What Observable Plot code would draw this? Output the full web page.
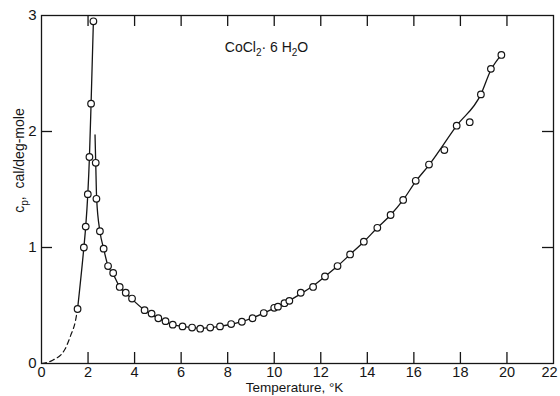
<!DOCTYPE html>
<html><head><meta charset="utf-8">
<script src="https://cdn.jsdelivr.net/npm/d3@7"></script>
<script src="https://cdn.jsdelivr.net/npm/@observablehq/plot@0.6"></script>
<style>body{margin:0;background:#fff} #chart{width:560px;height:396px}</style>
</head><body><div id="chart"></div>
<script>
// Measured points, rising branch (below the transition)
const leftT  = [1.55, 1.82, 1.90, 1.99, 2.06, 2.13, 2.23];
const leftCp = [0.47, 1.00, 1.18, 1.46, 1.78, 2.24, 2.95];
// Measured points, falling branch and high-temperature rise
const rightT  = [2.33, 2.36, 2.51, 2.67, 2.86, 3.08, 3.36, 3.62, 3.89, 4.43, 4.73, 5.02, 5.33, 5.64, 6.06, 6.47, 6.82, 7.25, 7.67, 8.15, 8.61, 9.07, 9.55, 10.0, 10.16, 10.44, 10.65, 11.14, 11.67, 12.18, 12.72, 13.26, 13.85, 14.43, 15.0, 15.54, 16.08, 16.65, 17.31, 17.84, 18.40, 18.88, 19.31, 19.76];
const rightCp = [1.73, 1.42, 1.14, 0.99, 0.84, 0.78, 0.66, 0.61, 0.56, 0.46, 0.43, 0.39, 0.365, 0.335, 0.32, 0.31, 0.30, 0.31, 0.32, 0.34, 0.36, 0.39, 0.435, 0.48, 0.49, 0.52, 0.54, 0.61, 0.66, 0.75, 0.84, 0.94, 1.05, 1.17, 1.28, 1.41, 1.575, 1.715, 1.84, 2.05, 2.08, 2.32, 2.54, 2.66];
// Drawn curves
const dashT  = [0, 0.5, 1.0, 1.25, 1.45, 1.55];
const dashCp = [0, 0.03, 0.12, 0.24, 0.36, 0.47];
const fitLeftT  = [1.55, 1.82, 1.90, 1.99, 2.06, 2.13, 2.23];
const fitLeftCp = [0.47, 1.00, 1.18, 1.46, 1.78, 2.24, 2.95];
const fitRightT  = [2.30, 2.33, 2.37, 2.51, 2.67, 2.86, 3.08, 3.36, 3.62, 3.89, 4.43, 5.02, 5.64, 6.06, 6.82, 7.67, 8.61, 9.55, 10.44, 11.14, 11.67, 12.18, 12.72, 13.26, 13.85, 14.43, 15.0, 15.54, 16.08, 16.65, 17.84, 18.88, 19.31, 19.76];
const fitRightCp = [1.97, 1.73, 1.42, 1.14, 0.99, 0.84, 0.77, 0.66, 0.61, 0.555, 0.46, 0.39, 0.335, 0.32, 0.305, 0.32, 0.36, 0.435, 0.52, 0.60, 0.67, 0.75, 0.84, 0.94, 1.05, 1.17, 1.28, 1.41, 1.57, 1.71, 2.05, 2.32, 2.53, 2.66];
// Axes
const xTickLabels = [0, 2, 4, 6, 8, 10, 12, 14, 16, 18, 20, 22];
const xTickMarks = [2, 4, 6, 8, 10, 12, 14, 16, 18, 20];
const yTickLabels = [0, 1, 2, 3];
const yTickMarks = [1, 2];
const xLabel = "Temperature, °K";
const yLabel = "cp, cal/deg-mole";
const title = "CoCl2· 6 H2O";

const zip = (a, b) => a.map((t, i) => ({T: t, cp: b[i]}));
const points = zip(leftT, leftCp).concat(zip(rightT, rightCp));

const W = 560, H = 396, mL = 41, mR = 7, mT = 15, mB = 33;
const innerW = W - mL - mR, innerH = H - mT - mB;
const ink = "#151515";
const font = "'Liberation Sans', Arial, sans-serif";

const plot = Plot.plot({
  width: W, height: H,
  marginLeft: mL, marginRight: mR, marginTop: mT, marginBottom: mB,
  style: {fontFamily: font, fontSize: "14px", color: ink, background: "#fff", overflow: "visible"},
  x: {domain: [0, 22]},
  y: {domain: [0, 3]},
  marks: [
    Plot.line(zip(dashT, dashCp), {x: "T", y: "cp", stroke: ink, strokeWidth: 1.2, strokeDasharray: "5,3.5", curve: "monotone-x"}),
    Plot.line(zip(fitLeftT, fitLeftCp), {x: "T", y: "cp", stroke: ink, strokeWidth: 1.3, curve: "monotone-x"}),
    Plot.line(zip(fitRightT, fitRightCp), {x: "T", y: "cp", stroke: ink, strokeWidth: 1.3, curve: "monotone-x"}),
    Plot.dot(points, {x: "T", y: "cp", r: 3.3, fill: "white", stroke: ink, strokeWidth: 1.2}),
    Plot.frame({stroke: ink, strokeWidth: 1.3}),
    Plot.tickX(xTickMarks, {x: d => d, insetTop: innerH - 11, stroke: ink, strokeWidth: 1.3}),
    Plot.tickX(xTickMarks, {x: d => d, insetBottom: innerH - 11, stroke: ink, strokeWidth: 1.3}),
    Plot.tickY(yTickMarks, {y: d => d, insetRight: innerW - 11, stroke: ink, strokeWidth: 1.3}),
    Plot.tickY(yTickMarks, {y: d => d, insetLeft: innerW - 11, stroke: ink, strokeWidth: 1.3}),
    Plot.axisX(xTickLabels, {tickSize: 0, tickPadding: 3, fontSize: 14.5, tickFormat: d => String(d), label: null}),
    Plot.text([xLabel], {text: d => d, frameAnchor: "bottom", lineAnchor: "bottom", dx: -3, dy: 28, fontSize: 13.5, fill: ink}),
    Plot.axisY(yTickLabels, {tickSize: 0, tickPadding: 5, fontSize: 15, tickFormat: d => String(d), label: null}),
    Plot.text([title], {text: d => d, frameAnchor: "top", dx: -31, dy: 27, fontSize: 14, fill: ink, className: "ttl"}),
    Plot.text([yLabel], {text: d => d, frameAnchor: "left", textAnchor: "middle", lineAnchor: "middle", rotate: -90, dx: -22, dy: -29, fontSize: 14, fill: ink, className: "ylab"})
  ]
});
document.getElementById("chart").appendChild(plot);

// keep the last x tick label inside the window
for (const t of plot.querySelectorAll("text")) {
  if (t.textContent === "22") t.setAttribute("dx", "-4");
}

// subscripts
function setParts(sel, parts) {
  const t = plot.querySelector(sel);
  if (!t) return;
  t.textContent = "";
  let shift = 0;
  for (const [s, sub] of parts) {
    const ts = document.createElementNS("http://www.w3.org/2000/svg", "tspan");
    const want = sub ? 4 : 0;
    ts.setAttribute("dy", want - shift);
    shift = want;
    if (sub) ts.setAttribute("font-size", "10");
    ts.textContent = s;
    t.appendChild(ts);
  }
}
setParts("g.ttl text", [["CoCl", false], ["2", true], ["· 6 H", false], ["2", true], ["O", false]]);
setParts("g.ylab text", [["c", false], ["p", true], [",  cal/deg-mole", false]]);
</script>
</body></html>
